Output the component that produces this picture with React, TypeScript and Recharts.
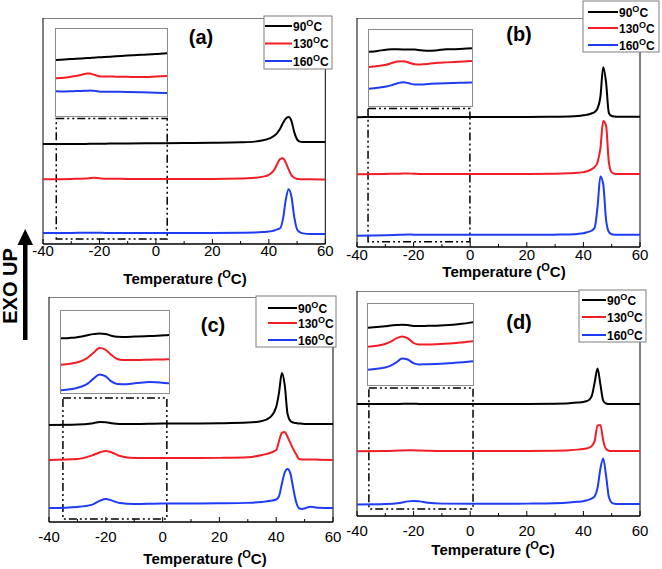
import { LineChart, Line, XAxis, YAxis, ReferenceArea } from "recharts";

const FONT = '"Liberation Sans", Arial, sans-serif';
const COLORS = ["#000000", "#f31d25", "#1f3cf5"];
const LEGEND = ["90", "130", "160"];
const TICKS = [-40, -30, -20, -10, 0, 10, 20, 30, 40, 50, 60];

// main temperature grid (°C)
const TEMP = [-40, -30, -25, -22, -20, -18, -15, -10, 0, 10, 20, 30, 35, 38, 40, 41, 42, 43, 44, 45, 46, 47, 48, 49, 50, 51, 52, 55, 60];

// (a)
const A_90 = [44.2, 44.3, 44.3, 44.4, 44.4, 44.4, 44.5, 44.5, 44.6, 44.7, 44.8, 45.0, 45.3, 45.9, 46.6, 47.2, 48.0, 49.2, 51.0, 53.5, 55.5, 56.2, 54.5, 49.5, 46.3, 45.3, 45.1, 45.1, 45.1];
const A_130 = [28.6, 28.8, 29.0, 29.3, 29.1, 28.9, 28.9, 28.8, 28.8, 28.8, 28.8, 29.0, 29.3, 29.8, 30.6, 31.5, 33.0, 35.5, 37.6, 37.9, 36.0, 33.0, 30.5, 29.3, 28.8, 28.7, 28.6, 28.6, 28.5];
const A_160 = [4.9, 4.9, 5.0, 5.0, 5.0, 4.9, 4.9, 4.9, 4.9, 4.9, 4.9, 5.0, 5.1, 5.3, 5.5, 5.7, 6.0, 6.5, 7.0, 11.0, 19.5, 24.2, 21.0, 12.0, 6.5, 5.2, 4.7, 4.4, 4.4];
// (b)
const B_90 = [56.7, 56.8, 56.8, 56.8, 56.8, 56.8, 56.8, 56.8, 56.8, 56.8, 56.8, 56.9, 57.0, 57.2, 57.5, 57.7, 58.0, 58.4, 59.0, 60.5, 65.5, 78.5, 72.0, 58.5, 57.2, 57.0, 56.9, 56.9, 56.9];
const B_130 = [31.8, 31.9, 32.0, 32.1, 32.0, 31.9, 31.9, 31.9, 31.9, 31.9, 31.9, 32.0, 32.2, 32.4, 32.7, 33.0, 33.4, 34.0, 35.0, 37.0, 43.0, 55.0, 53.0, 37.0, 32.6, 32.0, 31.9, 31.9, 31.9];
const B_160 = [4.9, 5.1, 5.3, 5.5, 5.4, 5.3, 5.3, 5.3, 5.3, 5.3, 5.3, 5.4, 5.5, 5.7, 6.0, 6.3, 6.7, 7.2, 8.5, 17.5, 30.8, 27.5, 12.0, 6.6, 5.6, 5.4, 5.3, 5.3, 5.3];
// (c)
const C_90 = [43.1, 43.3, 43.8, 44.4, 44.3, 43.9, 43.6, 43.6, 43.8, 43.8, 43.9, 44.2, 44.9, 46.7, 51.1, 57.5, 66.2, 60.9, 48.0, 44.9, 44.2, 44.0, 43.8, 43.7, 43.6, 43.6, 43.6, 43.6, 43.6];
const C_130 = [27.6, 28.0, 29.5, 31.0, 31.6, 31.0, 29.3, 28.4, 28.4, 28.4, 28.5, 28.8, 29.8, 30.8, 32.0, 36.0, 39.6, 40.0, 37.8, 35.1, 32.4, 30.2, 28.0, 27.8, 27.8, 27.8, 27.8, 27.7, 27.6];
const C_160 = [6.2, 6.7, 7.6, 9.5, 10.2, 9.6, 8.4, 8.0, 8.2, 8.2, 8.3, 8.5, 8.9, 9.4, 10.0, 11.5, 17.0, 22.0, 23.6, 21.5, 15.0, 9.0, 6.2, 5.8, 6.0, 6.5, 6.8, 6.3, 6.2];
// (d)
const D_90 = [49.8, 49.8, 49.8, 49.9, 49.9, 49.8, 49.8, 49.8, 49.8, 49.8, 49.8, 49.9, 50.1, 50.4, 50.7, 51.0, 51.6, 53.5, 59.5, 65.6, 58.5, 51.3, 50.0, 49.8, 49.8, 49.8, 49.8, 49.8, 49.8];
const D_130 = [28.8, 28.9, 29.1, 29.2, 29.2, 29.1, 29.0, 28.9, 28.9, 28.9, 28.9, 29.0, 29.2, 29.5, 29.8, 30.0, 30.4, 31.2, 33.5, 40.2, 40.5, 33.5, 29.8, 29.0, 28.9, 28.9, 28.9, 28.9, 28.9];
const D_160 = [5.1, 5.3, 5.8, 6.5, 6.7, 6.5, 5.9, 5.5, 5.4, 5.4, 5.5, 5.7, 6.0, 6.3, 6.6, 6.9, 7.3, 7.8, 8.8, 12.5, 21.0, 25.6, 18.0, 8.4, 5.9, 5.4, 5.3, 5.3, 5.3];

// insets (zoom on the low-temperature region)
const IA_T = [-35, -32, -30, -28, -26, -24, -23, -22, -20, -18, -16, -14, -10, -5, 0, 4];
const IA_90 = [64.4, 65.0, 65.4, 65.8, 66.2, 66.6, 66.8, 67.0, 67.4, 67.8, 68.2, 68.6, 69.4, 70.4, 71.2, 72.2];
const IA_130 = [43.3, 44.0, 45.0, 46.0, 47.5, 48.9, 48.8, 47.8, 45.8, 45.3, 45.4, 45.2, 45.0, 44.8, 45.3, 45.9];
const IA_160 = [28.5, 28.3, 28.4, 28.6, 28.8, 29.1, 29.2, 29.0, 28.3, 28.0, 27.9, 27.8, 27.6, 27.2, 26.7, 26.3];

const IB_T = [-36, -33, -30, -28, -26, -24, -22, -20, -18, -15, -12, -9, -6, -3, 0];
const IB_90 = [71.3, 72.5, 74.0, 74.7, 74.6, 74.5, 74.4, 74.2, 73.5, 72.6, 73.5, 74.6, 74.8, 75.2, 75.9];
const IB_130 = [51.4, 52.5, 54.3, 56.5, 58.6, 59.0, 57.0, 55.0, 54.6, 55.5, 56.8, 57.4, 58.0, 58.6, 59.2];
const IB_160 = [22.8, 24.0, 25.6, 27.5, 30.0, 31.3, 29.8, 28.2, 28.3, 29.0, 29.6, 30.0, 30.3, 30.6, 30.8];

const IC_T = [-35, -32, -30, -28, -26, -24, -22, -20, -18, -16, -14, -10, -5, 0, 1.5];
const IC_90 = [66.7, 67.2, 67.8, 69.0, 70.5, 71.8, 72.6, 72.0, 69.8, 68.6, 68.4, 68.8, 69.4, 70.4, 70.6];
const IC_130 = [34.5, 35.6, 37.0, 39.2, 43.0, 49.0, 54.9, 53.0, 46.5, 41.5, 40.2, 40.2, 40.6, 41.0, 41.2];
const IC_160 = [3.2, 4.5, 5.8, 7.9, 11.5, 17.5, 22.7, 20.5, 14.1, 10.9, 10.8, 11.8, 13.3, 12.3, 11.8];

const ID_T = [-36, -33, -30, -28, -26, -24, -22, -20, -18, -15, -12, -9, -6, -3, 0, 1];
const ID_90 = [70.6, 71.6, 72.6, 73.4, 74.0, 74.5, 74.0, 72.9, 72.8, 73.0, 73.3, 73.8, 74.5, 75.5, 77.0, 77.6];
const ID_130 = [47.1, 48.5, 50.6, 53.5, 57.5, 60.0, 57.5, 52.0, 50.0, 50.0, 50.3, 50.8, 51.5, 52.5, 53.6, 54.1];
const ID_160 = [18.8, 20.0, 21.6, 24.0, 28.0, 32.8, 31.5, 27.0, 25.3, 25.6, 26.0, 26.5, 27.2, 28.2, 29.0, 29.4];

const toRows = (t: number[], s: number[][]) =>
  t.map((x, i) => ({ t: x, s0: s[0][i], s1: s[1][i], s2: s[2][i] }));

const PANELS = [
  {
    id: "(a)", L: 42.7, R: 325, T: 18, B: 244, tickDy: 12.5,
    main: [A_90, A_130, A_160], insetT: IA_T, inset: [IA_90, IA_130, IA_160], insetDomain: [-35, 4],
    ib: [55, 28, 168, 117], rect: [-35.3, 4.0, 2.2, 55.5],
    legend: { box: [264, 16, 332, 69], rows: [26, 43.5, 61], line: [265, 292] },
    label: [201, 44], title: [185, 284],
  },
  {
    id: "(b)", L: 357, R: 640, T: 18, B: 247, tickDy: 13,
    main: [B_90, B_130, B_160], insetT: IB_T, inset: [IB_90, IB_130, IB_160], insetDomain: [-36, 0],
    ib: [368, 29, 473, 107], rect: [-36.1, -0.1, 2.3, 60.5],
    legend: { box: [583, 1, 659, 52], rows: [12, 28, 45], line: [588, 618] },
    label: [519, 41], title: [504, 277],
  },
  {
    id: "(c)", L: 49, R: 333, T: 297, B: 522, tickDy: 19.5,
    main: [C_90, C_130, C_160], insetT: IC_T, inset: [IC_90, IC_130, IC_160], insetDomain: [-35, 1.5],
    ib: [60, 310, 170, 394], rect: [-35.1, 1.5, 1.3, 55.1],
    legend: { box: [256, 296, 336, 347], rows: [308, 323, 340], line: [268, 297] },
    label: [213, 332], title: [205, 564],
  },
  {
    id: "(d)", L: 357, R: 640, T: 291, B: 516, tickDy: 19.5,
    main: [D_90, D_130, D_160], insetT: ID_T, inset: [ID_90, ID_130, ID_160], insetDomain: [-36, 1],
    ib: [367, 303, 474, 386], rect: [-35.8, 1.0, 3.1, 56.9],
    legend: { box: [579, 290, 646, 342], rows: [300, 317, 335], line: [582, 606] },
    label: [519, 329], title: [493, 555],
  },
];

function Tick({ x, y, payload, dy }: any) {
  const major = payload.value % 20 === 0;
  return (
    <g>
      <line x1={x} x2={x} y1={y} y2={y - (major ? 5 : 3)} stroke="#000" strokeWidth={1} />
      {major && (
        <text x={x} y={y + dy} textAnchor="middle" fontSize={15} fontFamily={FONT} fill="#000">
          {payload.value}
        </text>
      )}
    </g>
  );
}

function Panel({ p }: any) {
  const w = p.R - p.L;
  const h = p.B - p.T;
  const data = toRows(TEMP, p.main);
  const insetData = toRows(p.insetT, p.inset);
  const iw = p.ib[2] - p.ib[0];
  const ih = p.ib[3] - p.ib[1];
  return (
    <>
      <div style={{ position: "absolute", left: p.L - 25, top: p.T }}>
        <LineChart width={w + 50} height={h + 30} data={data} margin={{ top: 0, right: 25, bottom: 0, left: 25 }}>
          <XAxis
            dataKey="t" type="number" domain={[-40, 60]} ticks={TICKS} interval={0} height={30}
            tickLine={false} tickSize={0} tickMargin={0} axisLine={{ stroke: "#000" }}
            tick={(props: any) => <Tick {...props} dy={p.tickDy} />}
          />
          <YAxis type="number" domain={[0, 100]} hide width={0} />
          <ReferenceArea x1={-40} x2={60} y1={0} y2={100} fill="none" stroke="#000" strokeWidth={1} />
          <ReferenceArea
            x1={p.rect[0]} x2={p.rect[1]} y1={p.rect[2]} y2={p.rect[3]}
            fill="none" stroke="#000" strokeWidth={1.5} strokeDasharray="8 3 2 3 2 3"
          />
          {[0, 1, 2].map((i) => (
            <Line key={i} type="monotone" dataKey={`s${i}`} stroke={COLORS[i]} strokeWidth={2} dot={false} isAnimationActive={false} />
          ))}
        </LineChart>
      </div>
      <div
        style={{
          position: "absolute", left: p.ib[0], top: p.ib[1], width: iw, height: ih,
          background: "#fff", border: "1px solid #8c8c8c", boxSizing: "border-box",
        }}
      >
        <LineChart width={iw - 2} height={ih - 2} data={insetData} margin={{ top: 0, right: 0, bottom: 0, left: 0 }}>
          <XAxis dataKey="t" type="number" domain={p.insetDomain} hide height={0} />
          <YAxis type="number" domain={[0, 100]} hide width={0} />
          {[0, 1, 2].map((i) => (
            <Line key={i} type="monotone" dataKey={`s${i}`} stroke={COLORS[i]} strokeWidth={2} dot={false} isAnimationActive={false} />
          ))}
        </LineChart>
      </div>
    </>
  );
}

function Overlay() {
  return (
    <svg width={662} height={569} style={{ position: "absolute", left: 0, top: 0, pointerEvents: "none" }} fontFamily={FONT}>
      {PANELS.map((p) => {
        const b = p.legend.box;
        return (
          <g key={p.id}>
            <rect x={b[0]} y={b[1]} width={b[2] - b[0]} height={b[3] - b[1]} fill="#fff" stroke="#7f7f7f" strokeWidth={1} />
            {LEGEND.map((l, i) => (
              <g key={l}>
                <line x1={p.legend.line[0]} x2={p.legend.line[1]} y1={p.legend.rows[i]} y2={p.legend.rows[i]} stroke={COLORS[i]} strokeWidth={2} />
                <text x={p.legend.line[1] + 1} y={p.legend.rows[i] + 4.5} fontSize={12} fontWeight="bold" fill="#000">
                  {l}
                  <tspan dy={-5} fontSize={9}>O</tspan>
                  <tspan dy={5}>C</tspan>
                </text>
              </g>
            ))}
            <text x={p.label[0]} y={p.label[1]} textAnchor="middle" fontSize={20} fontWeight="bold" fill="#000">
              {p.id}
            </text>
            <text x={p.title[0]} y={p.title[1]} textAnchor="middle" fontSize={15} fontWeight="bold" fill="#000">
              Temperature (<tspan dy={-6} fontSize={11}>O</tspan>
              <tspan dy={6}>C)</tspan>
            </text>
          </g>
        );
      })}
      <rect x={23} y={243} width={4.5} height={97} fill="#000" />
      <polygon points="17.5,245 25.2,229 33,245" fill="#000" />
      <text transform="translate(17,286) rotate(-90)" textAnchor="middle" fontSize={20} fontWeight="bold" fill="#000">
        EXO UP
      </text>
    </svg>
  );
}

export default function App() {
  return (
    <div style={{ position: "absolute", left: 0, top: 0, width: 662, height: 569, background: "#fff", fontFamily: FONT }}>
      {PANELS.map((p) => (
        <Panel key={p.id} p={p} />
      ))}
      <Overlay />
    </div>
  );
}
